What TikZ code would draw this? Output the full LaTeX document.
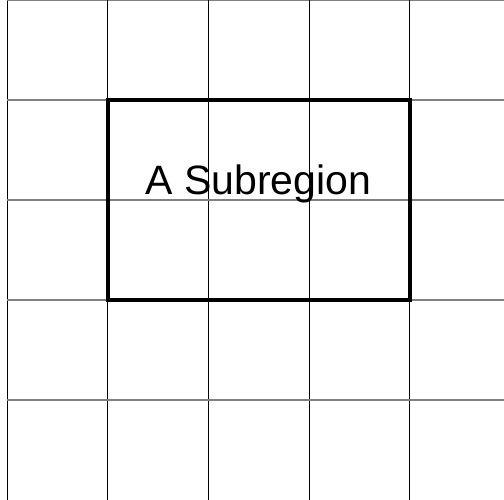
\documentclass[tikz,border=0pt]{standalone}
\usepackage{fontspec}
\setmainfont{Liberation Sans}
\definecolor{gridgray}{HTML}{808080}

\begin{document}
\begin{tikzpicture}[x=1pt, y=-1pt]
  \def\cw{100.6}   % cell width
  \def\ch{100}     % cell height
  \def\xo{7.3}     % left edge of the grid
  \useasboundingbox (0,0) rectangle (504,500);
  \clip (0,0) rectangle (504,500);
  % grid
  \foreach \i in {0,...,4}{
    \draw[black, line width=1pt] (\xo+\i*\cw,0) -- (\xo+\i*\cw,500);
    \draw[gridgray, line width=1.6pt] (\xo,\i*\ch) -- (504,\i*\ch);
  }
  % subregion
  \draw[black, line width=3.8pt] (\xo+\cw,\ch) rectangle (\xo+4*\cw,3*\ch);
  \node[anchor=base, inner sep=0pt, font=\fontsize{41}{49}\selectfont] (sub) at (258.5,195) {A Subregion};
\end{tikzpicture}
\end{document}
